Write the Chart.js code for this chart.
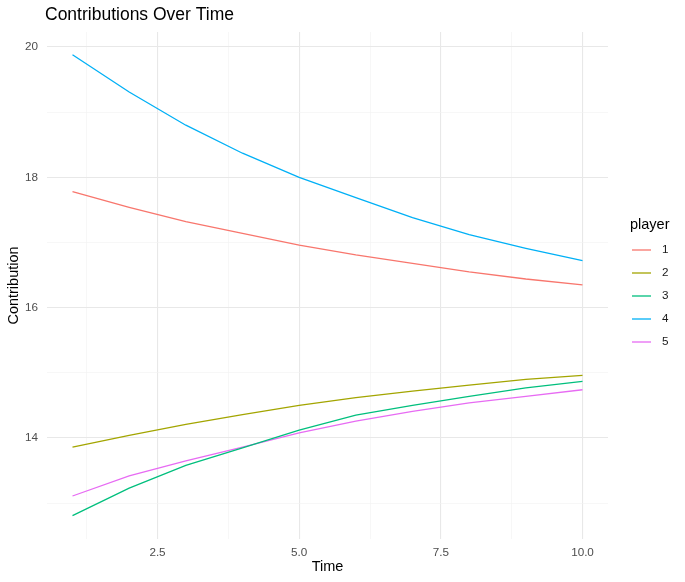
<!DOCTYPE html>
<html lang="en">
<head>
<meta charset="UTF-8">
<title>Contributions Over Time</title>
<script src="https://cdn.jsdelivr.net/npm/chart.js@4.4.0/dist/chart.umd.min.js"></script>
<style>
  body { margin: 0; background: #fff; }
</style>
</head>
<body>
<canvas id="chart" width="685" height="582"></canvas>
<script>
// values
const times = [1, 2, 3, 4, 5, 6, 7, 8, 9, 10];
const players = ['1', '2', '3', '4', '5'];
const player1 = [17.78, 17.54, 17.32, 17.14, 16.96, 16.81, 16.68, 16.55, 16.44, 16.35];
const player2 = [13.86, 14.04, 14.21, 14.36, 14.50, 14.62, 14.72, 14.81, 14.90, 14.96];
const player3 = [12.81, 13.23, 13.58, 13.85, 14.12, 14.35, 14.50, 14.64, 14.77, 14.87];
const player4 = [19.88, 19.31, 18.80, 18.37, 18.00, 17.69, 17.38, 17.12, 16.91, 16.72];
const player5 = [13.11, 13.42, 13.65, 13.86, 14.08, 14.26, 14.41, 14.54, 14.64, 14.74];
const xTicks = [1.25, 2.5, 3.75, 5, 6.25, 7.5, 8.75, 10];
const yTicks = [13, 14, 15, 16, 17, 18, 19, 20];
const xLabelled = [2.5, 5, 7.5, 10];
const yLabelled = [14, 16, 18, 20];

const colors = ['#F8766D', '#A3A500', '#00BF7D', '#00B0F6', '#E76BF3'];
const series = [player1, player2, player3, player4, player5];
const font = "'Liberation Sans', Arial, sans-serif";

const datasets = series.map((vals, i) => ({
  label: players[i],
  data: vals.map((v, j) => ({ x: times[j], y: v })),
  borderColor: colors[i],
  backgroundColor: colors[i],
  borderWidth: 1.3,
  pointRadius: 0,
  tension: 0,
  fill: false
}));

function gridColor(list) {
  return ctx => (ctx.tick && list.includes(ctx.tick.value)) ? '#e8e8e8' : '#f2f2f2';
}
function gridWidth(list) {
  return ctx => (ctx.tick && list.includes(ctx.tick.value)) ? 1.1 : 0.6;
}

// title and legend drawn like ggplot's
const ggExtras = {
  id: 'ggExtras',
  afterDraw(chart) {
    const c = chart.ctx;
    c.save();
    c.fillStyle = '#000';
    c.textBaseline = 'middle';
    c.textAlign = 'left';
    c.font = '17.5px ' + font;
    c.fillText('Contributions Over Time', 45, 15);

    c.font = '14.5px ' + font;
    c.fillText('player', 630, 225);
    c.font = '11.7px ' + font;
    players.forEach((p, i) => {
      const y = 250 + i * 23;
      c.strokeStyle = colors[i];
      c.lineWidth = 1.3;
      c.beginPath();
      c.moveTo(632, y);
      c.lineTo(651, y);
      c.stroke();
      c.fillStyle = '#1a1a1a';
      c.fillText(p, 662, y);
    });
    c.restore();
  }
};

new Chart(document.getElementById('chart'), {
  type: 'line',
  data: { datasets },
  plugins: [ggExtras],
  options: {
    responsive: false,
    animation: false,
    devicePixelRatio: 1,
    layout: { padding: { top: 32, right: 77, left: 0, bottom: 0 } },
    plugins: {
      legend: { display: false },
      title: { display: false },
      tooltip: { enabled: false }
    },
    scales: {
      x: {
        type: 'linear',
        min: 0.55,
        max: 10.45,
        afterBuildTicks: s => { s.ticks = xTicks.map(v => ({ value: v })); },
        afterFit: s => { s.height = 43; },
        ticks: {
          autoSkip: false,
          maxRotation: 0,
          padding: 7,
          color: '#4d4d4d',
          font: { family: font, size: 11.7 },
          callback: v => xLabelled.includes(v) ? v.toFixed(1) : ''
        },
        grid: { color: gridColor(xLabelled), lineWidth: gridWidth(xLabelled), drawTicks: false },
        border: { display: false },
        title: {
          display: true,
          text: 'Time',
          color: '#000',
          font: { family: font, size: 14.5 },
          padding: { top: 0, bottom: 6.3 }
        }
      },
      y: {
        type: 'linear',
        min: 12.45,
        max: 20.23,
        afterBuildTicks: s => { s.ticks = yTicks.map(v => ({ value: v })); },
        afterFit: s => { s.width = 47; },
        ticks: {
          autoSkip: false,
          padding: 9,
          color: '#4d4d4d',
          font: { family: font, size: 11.7 },
          callback: v => yLabelled.includes(v) ? String(v) : ''
        },
        grid: { color: gridColor(yLabelled), lineWidth: gridWidth(yLabelled), drawTicks: false },
        border: { display: false },
        title: {
          display: true,
          text: 'Contribution',
          color: '#000',
          font: { family: font, size: 14.5 },
          padding: { top: 5.5, bottom: 0 }
        }
      }
    }
  }
});
</script>
</body>
</html>
